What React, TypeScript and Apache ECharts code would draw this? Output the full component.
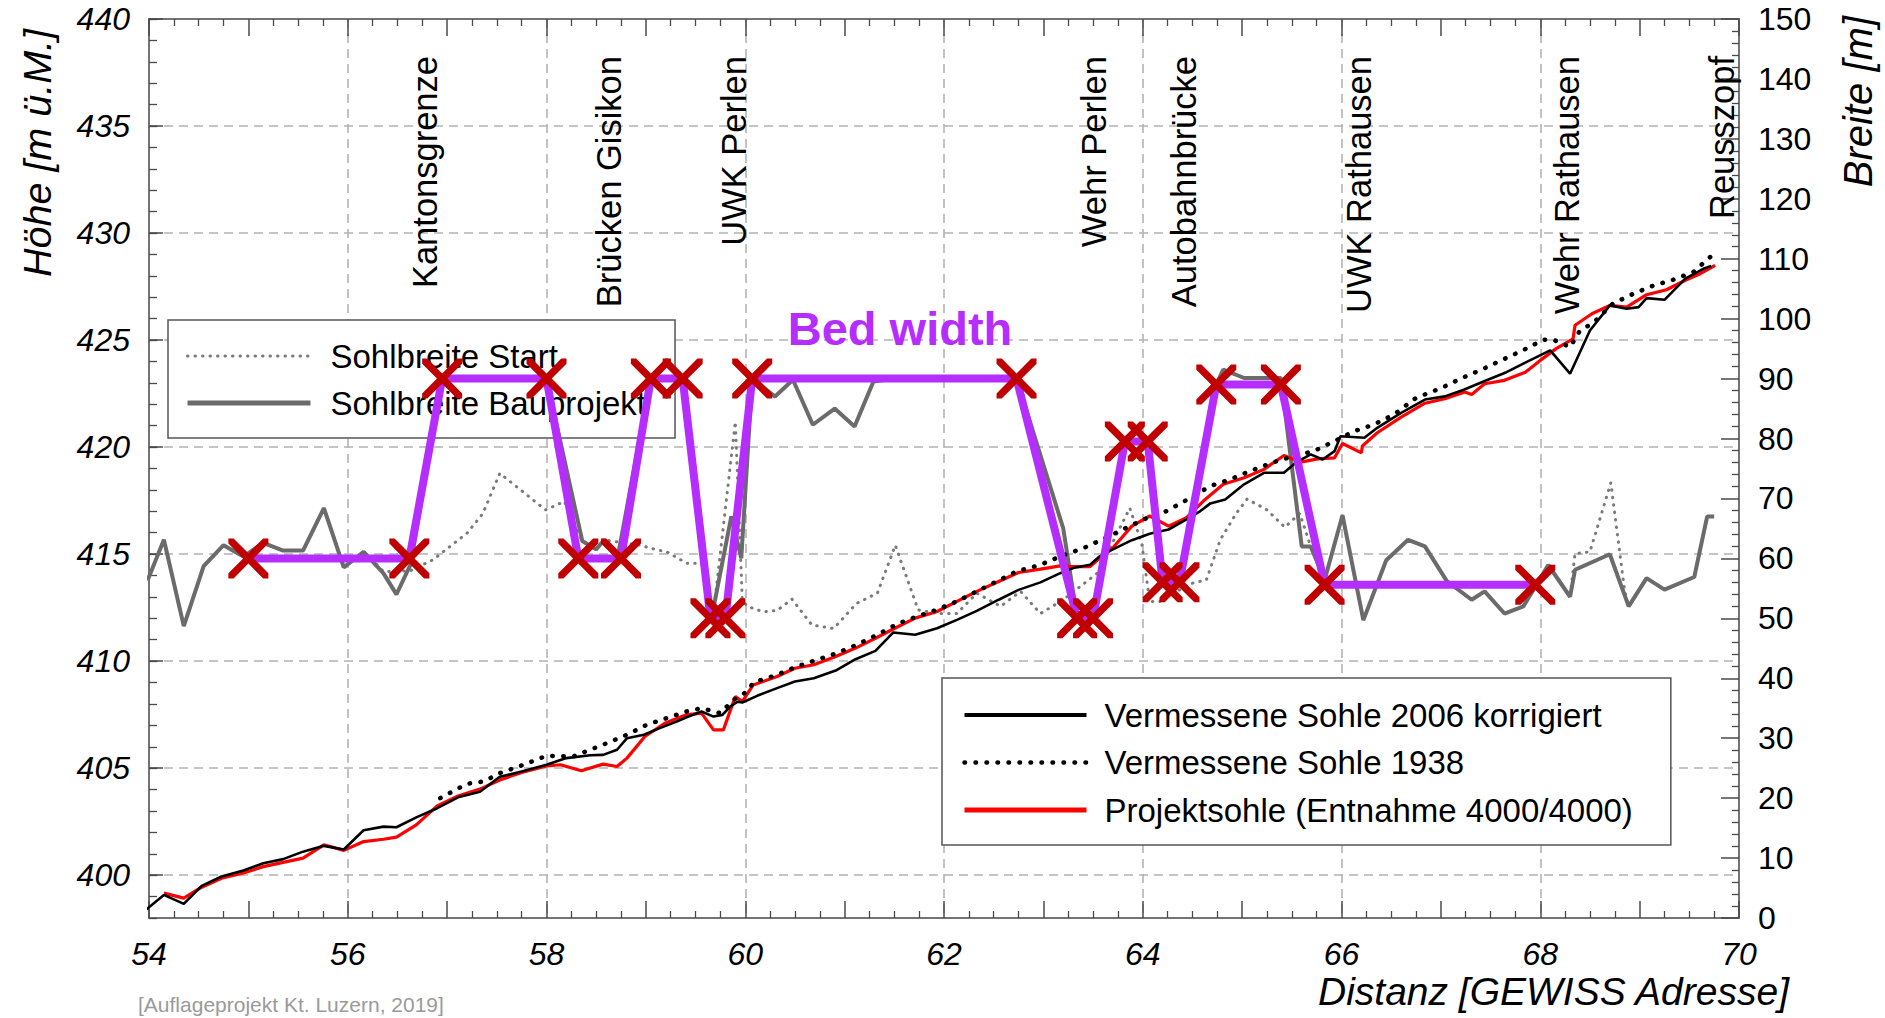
import React, { useEffect, useRef } from 'react';
import * as echarts from 'echarts';

const FONT = '"Liberation Sans", Arial, Helvetica, sans-serif';

// ---- axes ----
const xMin = 54;
const xMax = 70;
const leftMin = 398;
const leftMax = 440;
const leftMajorTicks = [400, 405, 410, 415, 420, 425, 430, 435, 440];
const rightMin = 0;
const rightMax = 150;

// ---- site annotations (Distanz) ----
const siteNames = [
  'Kantonsgrenze',
  'Brücken Gisikon',
  'UWK Perlen',
  'Wehr Perlen',
  'Autobahnbrücke',
  'UWK Rathausen',
  'Wehr Rathausen',
  'Reusszopf',
];
const siteDist = [56.78, 58.63, 59.89, 63.51, 64.42, 66.18, 68.27, 69.83];

// ---- elevation series [Distanz, Höhe m ü.M.] ----
const sohle2006: [number, number][] = [
  [53.75, 398.08], [53.94, 398.27], [54.15, 399.08], [54.35, 398.66], [54.53, 399.5], [54.73, 399.94],
  [54.95, 400.22], [55.15, 400.56], [55.35, 400.75], [55.55, 401.1], [55.76, 401.37], [55.96, 401.2],
  [56.16, 402.1], [56.36, 402.27], [56.49, 402.24], [56.69, 402.7], [56.9, 403.13], [57.11, 403.64],
  [57.33, 403.9], [57.53, 404.6], [57.75, 404.84], [58.0, 405.16], [58.2, 405.47], [58.44, 405.6],
  [58.57, 405.62], [58.71, 405.86], [58.81, 406.4], [58.98, 406.56], [59.14, 406.87], [59.31, 407.18],
  [59.41, 407.38], [59.56, 407.65], [59.68, 407.41], [59.77, 407.49], [59.85, 407.88], [59.92, 408.1],
  [59.97, 408.07], [60.12, 408.38], [60.32, 408.74], [60.5, 409.05], [60.69, 409.2], [60.91, 409.56],
  [61.11, 410.09], [61.31, 410.48], [61.49, 411.34], [61.71, 411.23], [61.93, 411.54], [62.13, 411.93],
  [62.33, 412.35], [62.55, 412.87], [62.75, 413.33], [62.97, 413.68], [63.17, 414.11], [63.3, 414.35],
  [63.47, 414.5], [63.57, 414.91], [63.7, 415.22], [63.89, 415.65], [64.07, 415.95], [64.26, 416.15],
  [64.44, 416.62], [64.58, 417.01], [64.68, 417.37], [64.83, 417.55], [65.02, 418.26], [65.22, 418.8],
  [65.42, 418.8], [65.54, 419.27], [65.69, 419.66], [65.81, 419.42], [65.93, 419.81], [65.99, 420.51],
  [66.23, 420.44], [66.36, 420.9], [66.6, 421.6], [66.84, 422.22], [67.04, 422.37], [67.23, 422.68],
  [67.46, 423.12], [67.66, 423.5], [67.86, 423.97], [68.1, 424.52], [68.3, 423.43], [68.5, 425.45],
  [68.7, 426.62], [68.87, 426.46], [68.99, 426.54], [69.07, 426.96], [69.25, 426.88], [69.46, 427.87],
  [69.64, 428.33], [69.72, 428.46],
];

const sohle1938: [number, number][] = [
  [56.93, 403.6], [57.2, 404.27], [57.37, 404.38], [57.53, 404.77], [57.77, 405.16], [58.0, 405.58],
  [58.27, 405.55], [58.44, 405.86], [58.61, 406.17], [58.81, 406.56], [59.01, 407.03], [59.21, 407.34],
  [59.41, 407.65], [59.56, 407.8], [59.75, 407.57], [59.88, 408.19], [60.02, 408.58], [60.08, 409.0],
  [60.32, 409.36], [60.52, 409.75], [60.72, 410.06], [60.92, 410.37], [61.12, 410.76], [61.33, 411.23],
  [61.53, 411.74], [61.73, 412.09], [61.93, 412.4], [62.13, 412.79], [62.33, 413.26], [62.53, 413.72],
  [62.73, 414.19], [62.97, 414.5], [63.2, 414.95], [63.4, 415.27], [63.6, 415.7], [63.8, 416.15],
  [64.07, 416.75], [64.24, 417.01], [64.48, 417.63], [64.68, 418.18], [64.88, 418.49], [65.08, 418.88],
  [65.32, 419.3], [65.52, 419.58], [65.72, 419.81], [65.93, 420.28], [66.13, 420.75], [66.33, 421.06],
  [66.53, 421.53], [66.75, 422.3], [67.0, 422.75], [67.2, 423.2], [67.4, 423.6], [67.63, 424.1],
  [67.86, 424.6], [68.03, 425.02], [68.13, 425.02], [68.3, 424.67], [68.4, 425.45], [68.53, 425.79],
  [68.73, 426.7], [68.94, 427.17], [69.14, 427.55], [69.34, 427.82], [69.54, 428.18], [69.71, 428.88],
];

const projektsohle: [number, number][] = [
  [54.15, 399.16], [54.35, 398.93], [54.53, 399.44], [54.73, 399.86], [54.95, 400.1], [55.15, 400.4],
  [55.35, 400.6], [55.55, 400.8], [55.76, 401.42], [55.96, 401.16], [56.16, 401.57], [56.36, 401.68],
  [56.49, 401.78], [56.69, 402.35], [56.9, 403.24], [57.11, 403.7], [57.33, 404.02], [57.53, 404.45],
  [57.75, 404.8], [58.0, 405.1], [58.14, 405.16], [58.35, 404.88], [58.57, 405.19], [58.71, 405.08],
  [58.81, 405.47], [58.99, 406.48], [59.19, 407.1], [59.4, 407.49], [59.56, 407.57], [59.68, 406.79],
  [59.78, 406.79], [59.9, 408.35], [59.97, 408.11], [60.08, 408.89], [60.32, 409.28], [60.5, 409.67],
  [60.69, 409.83], [60.91, 410.22], [61.11, 410.61], [61.31, 411.07], [61.49, 411.5], [61.71, 412.01],
  [61.93, 412.32], [62.13, 412.79], [62.33, 413.26], [62.55, 413.72], [62.75, 414.14], [62.97, 414.3],
  [63.17, 414.45], [63.3, 414.42], [63.47, 414.42], [63.57, 414.83], [63.7, 415.3], [63.89, 416.31],
  [64.07, 416.78], [64.26, 416.31], [64.44, 416.7], [64.61, 417.48], [64.81, 418.26], [65.02, 418.57],
  [65.22, 418.96], [65.42, 419.61], [65.59, 419.3], [65.76, 419.45], [65.93, 419.5], [66.01, 420.17],
  [66.2, 419.73], [66.21, 420.05], [66.36, 420.67], [66.6, 421.4], [66.84, 422.05], [67.04, 422.26],
  [67.24, 422.57], [67.31, 422.46], [67.44, 422.96], [67.64, 423.12], [67.85, 423.5], [68.0, 424.05],
  [68.16, 424.6], [68.33, 425.06], [68.35, 425.69], [68.52, 426.23], [68.7, 426.62], [68.87, 426.54],
  [69.07, 427.12], [69.27, 427.35], [69.47, 427.82], [69.61, 428.1], [69.76, 428.49],
];

// ---- width series [Distanz, Breite m] ----
const breiteStart: [number, number][] = [
  [53.99, 56.5], [54.15, 63.1], [54.35, 48.7], [54.55, 58.7], [54.75, 62.2], [54.95, 60.3],
  [55.15, 62.6], [55.35, 61.3], [55.55, 61.3], [55.76, 68.4], [55.96, 58.5], [56.16, 61.1],
  [56.36, 57.8], [56.63, 57.95], [56.86, 59.8], [57.2, 64.2], [57.36, 67.5], [57.53, 74.2],
  [57.99, 68.1], [58.18, 69.5], [58.36, 62.9], [58.5, 61.5], [58.58, 63.1], [58.94, 62.2],
  [59.12, 61.4], [59.21, 61.1], [59.41, 59.2], [59.56, 59.2], [59.68, 50.8], [59.9, 82.8],
  [59.97, 53.1], [60.02, 52.0], [60.18, 51.1], [60.32, 51.3], [60.47, 53.2], [60.67, 48.9],
  [60.89, 48.3], [61.12, 52.5], [61.33, 54.2], [61.51, 62.2], [61.61, 57.5], [61.74, 51.4],
  [61.93, 50.8], [62.13, 50.8], [62.33, 54.2], [62.57, 52.0], [62.77, 54.5], [62.97, 50.8],
  [63.2, 53.1], [63.54, 57.5], [63.87, 68.4], [63.99, 62.5], [64.07, 52.8], [64.17, 52.8],
  [64.48, 55.8], [64.64, 56.4], [64.78, 63.1], [64.94, 67.5], [65.05, 69.9], [65.25, 68.1],
  [65.43, 65.2], [65.58, 67.5], [65.69, 62.0], [65.83, 56.4], [66.01, 67.2], [66.22, 49.7],
  [66.45, 59.7], [66.67, 63.1], [66.84, 62.0], [67.06, 56.2], [67.31, 53.1], [67.44, 54.5],
  [67.64, 50.8], [67.83, 52.0], [68.08, 58.9], [68.3, 53.6], [68.35, 60.8], [68.5, 61.1],
  [68.71, 72.6], [68.85, 54.5], [68.89, 52.0], [69.07, 56.7], [69.25, 54.8], [69.55, 56.9],
  [69.68, 67.0], [69.75, 67.0],
];

const breiteBauprojekt: [number, number][] = [
  [53.99, 56.5], [54.15, 63.1], [54.35, 48.7], [54.55, 58.7], [54.75, 62.2], [54.95, 60.3],
  [55.15, 62.6], [55.35, 61.3], [55.55, 61.3], [55.76, 68.4], [55.96, 58.5], [56.16, 61.1],
  [56.36, 57.5], [56.49, 54.0], [56.63, 58.9], [56.95, 90], [58.0, 90], [58.36, 62.9],
  [58.5, 61.5], [58.58, 63.1], [58.72, 60.5], [59.05, 90], [59.37, 90], [59.66, 50],
  [59.86, 67], [59.96, 60], [60.07, 90], [60.3, 87], [60.48, 89.8], [60.68, 82.3],
  [60.9, 85], [61.1, 82], [61.29, 89.5], [61.5, 90], [62.73, 90], [63.2, 65],
  [63.34, 50], [63.5, 50], [63.82, 79.5], [64.05, 79.5], [64.2, 56], [64.37, 56],
  [64.74, 89], [64.81, 91.5], [65.02, 90.1], [65.39, 90.1], [65.6, 62], [65.69, 62],
  [65.83, 56.4], [66.01, 67.2], [66.22, 49.7], [66.45, 59.7], [66.67, 63.1], [66.84, 62],
  [67.06, 56.2], [67.31, 53.1], [67.44, 54.5], [67.64, 50.8], [67.83, 52], [68.08, 58.9],
  [68.3, 53.6], [68.35, 58.1], [68.7, 60.7], [68.89, 52], [69.07, 56.7], [69.25, 54.8],
  [69.55, 56.9], [69.68, 67], [69.75, 67],
];

const bedWidth: [number, number][] = [
  [55.0, 60], [56.62, 60], [56.95, 90], [58.0, 90], [58.32, 60], [58.75, 60], [59.05, 90],
  [59.37, 90], [59.65, 50], [59.8, 50], [60.07, 90], [62.73, 90], [63.34, 50], [63.5, 50],
  [63.82, 79.5], [64.05, 79.5], [64.2, 56], [64.37, 56], [64.74, 89], [65.39, 89],
  [65.83, 55.6], [67.95, 55.6],
];

const legendTop = ['Sohlbreite Start', 'Sohlbreite Bauprojekt'];
const legendTopWidths = [3, 5];
const legendBottom = [
  'Vermessene Sohle 2006 korrigiert',
  'Vermessene Sohle 1938',
  'Projektsohle (Entnahme 4000/4000)',
];
const legendBottomWidths = [4, 4.5, 5];

const X_SYMBOL =
  'path://M0,0L2.6,0L10,7.4L17.4,0L20,0L20,2.6L12.6,10L20,17.4L20,20L17.4,20L10,12.6L2.6,20L0,20L0,17.4L7.4,10L0,2.6Z';

const AXIS_LINE = { show: true, onZero: false, lineStyle: { color: '#747474', width: 2 } };
const TICK_COLOR = '#4a4a4a';
const GRID_LINE = { show: true, lineStyle: { color: '#b3b3b3', width: 1.6, type: [9, 6] as number[] } };

function buildOption(): any {
  return {
    animation: false,
    backgroundColor: '#ffffff',
    textStyle: { fontFamily: FONT },
    grid: { left: 149, top: 19, width: 1590, height: 899, containLabel: false, outerBoundsMode: 'none' },
    xAxis: [
      {
        type: 'value', min: xMin, max: xMax, interval: 2, position: 'bottom',
        axisLine: AXIS_LINE,
        axisTick: { show: false },
        axisLabel: { show: true, fontSize: 32, fontStyle: 'italic', color: '#000', margin: 20, fontFamily: FONT },
        splitLine: GRID_LINE,
      },
      {
        type: 'value', min: xMin, max: xMax, interval: 1, position: 'bottom',
        axisLine: { show: false, onZero: false },
        axisTick: { show: true, inside: true, length: 17, lineStyle: { color: TICK_COLOR, width: 1.5 } },
        minorTick: { show: true, splitNumber: 4, length: 7, lineStyle: { color: TICK_COLOR, width: 1.3 } },
        axisLabel: { show: false },
        splitLine: { show: false },
      },
      {
        type: 'value', min: xMin, max: xMax, interval: 1, position: 'top',
        axisLine: AXIS_LINE,
        axisTick: { show: true, inside: true, length: 17, lineStyle: { color: TICK_COLOR, width: 1.5 } },
        minorTick: { show: true, splitNumber: 4, length: 7, lineStyle: { color: TICK_COLOR, width: 1.3 } },
        axisLabel: { show: false },
        splitLine: { show: false },
      },
    ],
    yAxis: [
      {
        type: 'value', min: leftMin, max: leftMax, interval: 1, position: 'left',
        axisLine: AXIS_LINE,
        axisTick: { show: true, inside: true, length: 8, lineStyle: { color: TICK_COLOR, width: 1.3 } },
        axisLabel: {
          show: true, fontSize: 32, fontStyle: 'italic', color: '#000', margin: 19, fontFamily: FONT,
          formatter: (v: number) => (leftMajorTicks.indexOf(Math.round(v)) >= 0 ? String(Math.round(v)) : ''),
        },
        splitLine: { show: false },
      },
      {
        type: 'value', min: rightMin, max: rightMax, interval: 10, position: 'right',
        axisLine: AXIS_LINE,
        axisTick: { show: true, inside: true, length: 18, lineStyle: { color: TICK_COLOR, width: 1.5 } },
        minorTick: { show: true, splitNumber: 5, length: 7, lineStyle: { color: TICK_COLOR, width: 1.3 } },
        axisLabel: { show: true, fontSize: 32, color: '#000', margin: 19, fontFamily: FONT },
        splitLine: { show: false },
      },
      {
        type: 'value', min: leftMin, max: leftMax, position: 'left',
        axisLine: { show: false, onZero: false },
        axisTick: { show: true, inside: true, length: 14, customValues: leftMajorTicks, lineStyle: { color: TICK_COLOR, width: 1.5 } },
        axisLabel: { show: false, customValues: leftMajorTicks },
        splitLine: GRID_LINE,
      },
    ],
    legend: [
      {
        data: legendTop.map((n, i) => ({ name: n, lineStyle: { width: legendTopWidths[i] }, itemStyle: { opacity: 0 } })),
        orient: 'vertical', left: 168, top: 320,
        itemWidth: 123, itemHeight: 36, itemGap: 11,
        padding: [18, 29, 17, 17],
        borderColor: '#555', borderWidth: 1.5, backgroundColor: '#fff',
        selectedMode: false, z: 1,
        itemStyle: { opacity: 0 },
        textStyle: { fontSize: 33, fontFamily: FONT, color: '#000', lineHeight: 36, padding: [0, 0, 0, 15] },
      },
      {
        data: legendBottom.map((n, i) => ({ name: n, lineStyle: { width: legendBottomWidths[i] }, itemStyle: { opacity: 0 } })),
        orient: 'vertical', left: 942, top: 678,
        itemWidth: 122, itemHeight: 36, itemGap: 11.5,
        padding: [19, 38, 17, 20],
        borderColor: '#555', borderWidth: 1.5, backgroundColor: '#fff',
        selectedMode: false, z: 1,
        itemStyle: { opacity: 0 },
        textStyle: { fontSize: 33, fontFamily: FONT, color: '#000', lineHeight: 36, padding: [0, 0, 0, 13] },
      },
    ],
    series: [
      {
        name: 'Sohlbreite Start', type: 'line', xAxisIndex: 0, yAxisIndex: 1, data: breiteStart,
        symbol: 'none', silent: true, z: 2,
        lineStyle: { color: '#7a7a7a', width: 3, type: [0.5, 7], cap: 'round' },
        itemStyle: { color: '#7a7a7a' },
      },
      {
        name: 'Sohlbreite Bauprojekt', type: 'line', xAxisIndex: 0, yAxisIndex: 1, data: breiteBauprojekt,
        symbol: 'none', silent: true, z: 3,
        lineStyle: { color: '#6b6b6b', width: 4 },
        itemStyle: { color: '#6b6b6b' },
      },
      {
        name: 'Projektsohle (Entnahme 4000/4000)', type: 'line', xAxisIndex: 0, yAxisIndex: 0, data: projektsohle,
        symbol: 'none', silent: true, z: 4,
        lineStyle: { color: '#ff0000', width: 3.2 },
        itemStyle: { color: '#ff0000' },
      },
      {
        name: 'Vermessene Sohle 2006 korrigiert', type: 'line', xAxisIndex: 0, yAxisIndex: 0, data: sohle2006,
        symbol: 'none', silent: true, z: 5, clip: false,
        lineStyle: { color: '#000000', width: 2.6 },
        itemStyle: { color: '#000000' },
      },
      {
        name: 'Vermessene Sohle 1938', type: 'line', xAxisIndex: 0, yAxisIndex: 0, data: sohle1938,
        symbol: 'none', silent: true, z: 6,
        lineStyle: { color: '#000000', width: 4.5, type: [0.5, 10.5], cap: 'round' },
        itemStyle: { color: '#000000' },
      },
      {
        name: 'Bed width', type: 'line', xAxisIndex: 0, yAxisIndex: 1, data: bedWidth,
        symbol: X_SYMBOL, symbolSize: 40, showSymbol: true, silent: true, z: 8,
        lineStyle: { color: '#b52eff', width: 8 },
        itemStyle: { color: '#c00000' },
      },
    ],
  };
}

export default function App() {
  const ref = useRef<HTMLDivElement>(null);
  useEffect(() => {
    document.body.style.margin = '0';
    document.body.style.overflow = 'hidden';
    const el = ref.current as HTMLDivElement;
    const chart = echarts.init(el, null, { renderer: 'svg' });
    chart.setOption(buildOption());

    const siteTexts = siteNames.map((name, i) => {
      const px = chart.convertToPixel({ xAxisIndex: 0 }, siteDist[i]) as number;
      return {
        type: 'text', x: px, y: 56, rotation: Math.PI / 2, z: 20,
        style: {
          text: name, fill: '#000', fontSize: 34.5, fontFamily: FONT,
          align: 'right', verticalAlign: 'middle', textAlign: 'right', textVerticalAlign: 'middle',
        },
      };
    });
    const other = [
      {
        type: 'text', x: 37, y: 29, rotation: Math.PI / 2, z: 20,
        style: {
          text: 'Höhe [m ü.M.]', fill: '#000', fontSize: 39.5, fontStyle: 'italic', fontFamily: FONT,
          align: 'right', verticalAlign: 'middle', textAlign: 'right', textVerticalAlign: 'middle',
        },
      },
      {
        type: 'text', x: 1858, y: 16, rotation: Math.PI / 2, z: 20,
        style: {
          text: 'Breite [m]', fill: '#000', fontSize: 40, fontStyle: 'italic', fontFamily: FONT,
          align: 'right', verticalAlign: 'middle', textAlign: 'right', textVerticalAlign: 'middle',
        },
      },
      {
        type: 'text', x: 1789, y: 991, z: 20,
        style: {
          text: 'Distanz [GEWISS Adresse]', fill: '#000', fontSize: 39, fontStyle: 'italic', fontFamily: FONT,
          align: 'right', verticalAlign: 'middle', textAlign: 'right', textVerticalAlign: 'middle',
        },
      },
      {
        type: 'text', x: 900, y: 328, z: 20,
        style: {
          text: 'Bed width', fill: '#b52eff', fontSize: 47, fontWeight: 'bold', fontFamily: FONT,
          align: 'center', verticalAlign: 'middle', textAlign: 'center', textVerticalAlign: 'middle',
        },
      },
      {
        type: 'text', x: 138, y: 994, z: 20,
        style: {
          text: '[Auflageprojekt Kt. Luzern, 2019]', fill: '#9a9a9a', fontSize: 21, fontFamily: FONT,
          align: 'left', verticalAlign: 'top', textAlign: 'left', textVerticalAlign: 'top',
        },
      },
    ];
    chart.setOption({ graphic: [...siteTexts, ...other] });
    return () => chart.dispose();
  }, []);
  return (
    <div
      ref={ref}
      style={{ position: 'fixed', left: 0, top: 0, width: 1885, height: 1018, background: '#fff' }}
    />
  );
}
